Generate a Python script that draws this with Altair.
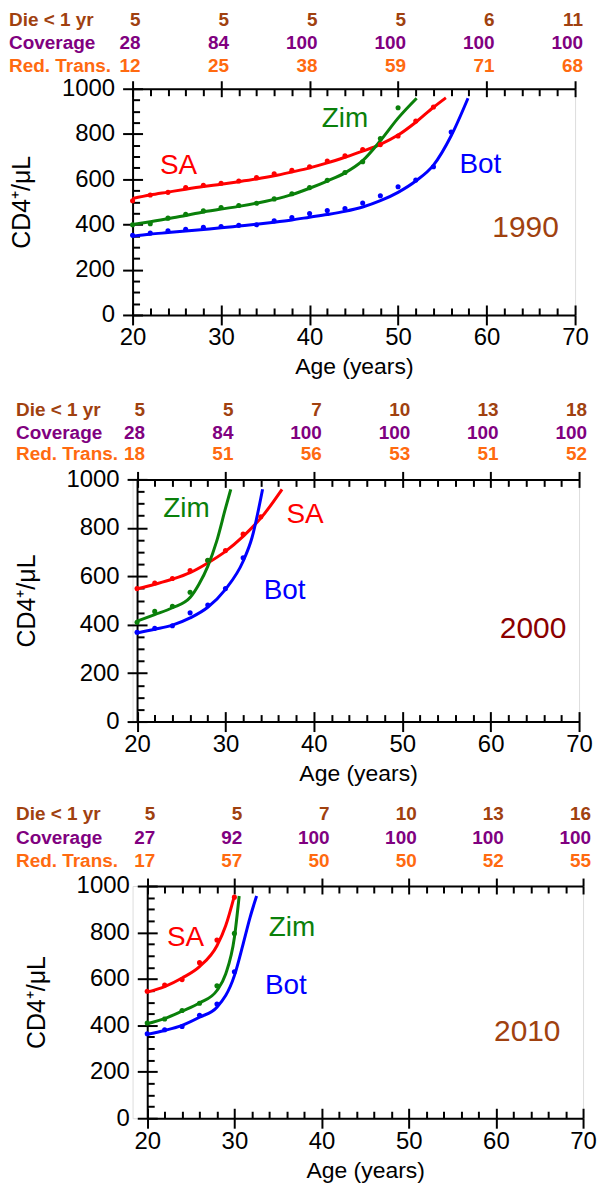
import altair as alt
import pandas as pd

FONT = "Liberation Sans"
RED, GREEN, BLUE = "#ff0000", "#0a800a", "#0000ff"
C_DIE, C_COV, C_RT = "#a0410f", "#800080", "#ff6a10"

SERIES = ["SA", "Zim", "Bot"]
ROW_LABELS = ["Die < 1 yr", "Coverage", "Red. Trans."]
HDR_AGE = [20, 30, 40, 50, 60, 70]

# ---------------- 1990 ----------------
DIE_1990 = [5, 5, 5, 5, 6, 11]
COV_1990 = [28, 84, 100, 100, 100, 100]
RT_1990 = [12, 25, 38, 59, 71, 68]

SA_1990_PT_AGE = [20, 22, 24, 26, 28, 30, 32, 34, 36, 38, 40, 42, 44, 46, 48, 50, 52, 54]
SA_1990_PT = [505, 530, 542, 563, 573, 582, 592, 607, 624, 640, 655, 680, 703, 731, 753, 791, 857, 919]
SA_1990_LN_AGE = [20, 22, 24, 26, 28, 30, 32, 34, 36, 38, 40, 42, 44, 46, 48, 50, 52, 54, 55.4]
SA_1990_LN = [515, 530, 543, 556, 568, 578, 589, 601, 615, 632, 650, 672, 697, 724, 754, 795, 852, 918, 960]

ZIM_1990_PT_AGE = [20, 22, 24, 26, 28, 30, 32, 34, 36, 38, 40, 42, 44, 46, 48, 50]
ZIM_1990_PT = [399, 403, 428, 445, 460, 475, 484, 494, 513, 536, 563, 595, 630, 677, 780, 916]
ZIM_1990_LN_AGE = [20, 22, 24, 26, 28, 30, 32, 34, 36, 38, 40, 42, 44, 46, 48, 50, 52.1]
ZIM_1990_LN = [400, 412, 425, 440, 455, 468, 480, 494, 511, 532, 560, 592, 628, 682, 770, 870, 958]

BOT_1990_PT_AGE = [20, 22, 24, 26, 28, 30, 32, 34, 36, 38, 40, 42, 44, 46, 48, 50, 52, 54, 56]
BOT_1990_PT = [352, 362, 372, 379, 387, 391, 396, 399, 416, 431, 448, 462, 470, 495, 527, 567, 596, 655, 809]
BOT_1990_LN_AGE = [20, 22, 24, 26, 28, 30, 32, 34, 36, 38, 40, 42, 44, 46, 48, 50, 52, 54, 56, 57.9]
BOT_1990_LN = [348, 357, 364, 371, 378, 385, 393, 401, 410, 420, 432, 444, 458, 477, 505, 542, 592, 662, 792, 958]

# ---------------- 2000 ----------------
DIE_2000 = [5, 5, 7, 10, 13, 18]
COV_2000 = [28, 84, 100, 100, 100, 100]
RT_2000 = [18, 51, 56, 53, 51, 52]

SA_2000_PT_AGE = [20, 22, 24, 26, 28, 30, 32, 34]
SA_2000_PT = [549, 572, 591, 624, 665, 706, 774, 846]
SA_2000_LN_AGE = [20, 22, 24, 26, 28, 30, 32, 34, 36.4]
SA_2000_LN = [548, 567, 588, 615, 655, 703, 765, 840, 959]

ZIM_2000_PT_AGE = [20, 22, 24, 26, 28]
ZIM_2000_PT = [410, 455, 476, 534, 666]
ZIM_2000_LN_AGE = [20, 22, 24, 26, 27, 28, 29, 30, 30.6]
ZIM_2000_LN = [415, 442, 470, 512, 567, 641, 744, 880, 959]

BOT_2000_PT_AGE = [20, 22, 24, 26, 28, 30, 32]
BOT_2000_PT = [369, 385, 396, 449, 481, 549, 676]
BOT_2000_LN_AGE = [20, 22, 24, 26, 28, 30, 32, 33, 34.2]
BOT_2000_LN = [366, 381, 398, 428, 472, 546, 662, 759, 959]

# ---------------- 2010 ----------------
DIE_2010 = [5, 5, 7, 10, 13, 16]
COV_2010 = [27, 92, 100, 100, 100, 100]
RT_2010 = [17, 57, 50, 50, 52, 55]

SA_2010_PT_AGE = [20, 22, 24, 26, 28, 30]
SA_2010_PT = [547, 574, 597, 670, 767, 952]
SA_2010_LN_AGE = [20, 22, 24, 26, 28, 29, 30]
SA_2010_LN = [543, 567, 604, 653, 743, 829, 958]

ZIM_2010_PT_AGE = [20, 22, 24, 26, 28, 30]
ZIM_2010_PT = [410, 427, 464, 495, 570, 796]
ZIM_2010_LN_AGE = [20, 22, 24, 26, 28, 29, 30, 30.55]
ZIM_2010_LN = [407, 429, 461, 496, 550, 621, 778, 957]

BOT_2010_PT_AGE = [20, 22, 24, 26, 28, 30]
BOT_2010_PT = [364, 381, 395, 443, 492, 631]
BOT_2010_LN_AGE = [20, 22, 24, 26, 28, 30, 31, 31.8, 32.55]
BOT_2010_LN = [361, 378, 400, 435, 478, 614, 750, 865, 957]


def frame(ages_list, vals_list):
    rows = []
    for name, ages, vals in zip(SERIES, ages_list, vals_list):
        for a, v in zip(ages, vals):
            rows.append({"series": name, "age": a, "val": v})
    return pd.DataFrame(rows)


COLOR = alt.Color("series:N", scale=alt.Scale(domain=SERIES, range=[RED, GREEN, BLUE]), legend=None)
MAJOR_X = [20, 30, 40, 50, 60, 70]
MINOR_X = list(range(20, 71, 2))
MAJOR_Y = list(range(0, 1001, 200))
MINOR_Y = list(range(0, 1001, 50))
COMMON = dict(tickColor="black", tickWidth=2, domainColor="black", domainWidth=2, grid=False)


def panel(W, H, r0, lines_df, pts_df, lab_pos, year_text, year_pos, year_color, hdr, lx, row_y):
    xs = alt.Scale(domain=[20, 70], range=[r0, W], nice=False, zero=False)
    ys = alt.Scale(domain=[0, 1000], nice=False)

    x_main = alt.Axis(orient="bottom", values=MAJOR_X, tickSize=10, labelFontSize=24, labelFont=FONT,
                      labelColor="black", labelPadding=1, labelFlush=False, title="Age (years)",
                      titleFontSize=23, titleFont=FONT, titleFontWeight="normal", titleColor="black",
                      titlePadding=6, **COMMON)
    y_main = alt.Axis(orient="left", values=MAJOR_Y, format="d", tickSize=10, offset=-r0, labelFontSize=24,
                      labelFont=FONT, labelColor="black", labelPadding=8, labelFlush=False,
                      title="CD4⁺/μL", titleFontSize=25, titleFont=FONT, titleFontWeight="normal",
                      titleColor="black", titlePadding=27, **COMMON)
    x_bot_in = alt.Axis(orient="top", offset=-H, values=MINOR_X,
                        tickSize={"condition": {"test": "datum.value % 10 === 0", "value": 10}, "value": 7},
                        labels=False, domain=False, title=None, tickColor="black", tickWidth=2, grid=False)
    y_left_in = alt.Axis(orient="right", offset=-(W - r0), values=MINOR_Y,
                         tickSize={"condition": {"test": "datum.value % 200 === 0", "value": 10}, "value": 7},
                         labels=False, domain=False, title=None, tickColor="black", tickWidth=2, grid=False)
    x_top_out = alt.Axis(orient="top", values=MAJOR_X, tickSize=8, labels=False, title=None, **COMMON)
    x_top_in = alt.Axis(orient="bottom", offset=-H, values=MINOR_X,
                        tickSize={"condition": {"test": "datum.value % 10 === 0", "value": 8}, "value": 7},
                        labels=False, domain=False, title=None, tickColor="black", tickWidth=2, grid=False)

    lines = alt.Chart(lines_df).mark_line(strokeWidth=3, interpolate="monotone").encode(
        x=alt.X("age:Q", scale=xs, axis=x_main),
        y=alt.Y("val:Q", scale=ys, axis=y_main),
        color=COLOR,
    )
    pts = alt.Chart(pts_df).mark_circle(size=26, opacity=1).encode(
        x=alt.X("age:Q", scale=xs, axis=x_bot_in),
        y=alt.Y("val:Q", scale=ys, axis=y_left_in),
        color=COLOR,
    )
    lab_df = pd.DataFrame({"series": SERIES, "age": [p[0] for p in lab_pos], "val": [p[1] for p in lab_pos]})
    labs = alt.Chart(lab_df).mark_text(fontSize=28, font=FONT, baseline="middle").encode(
        x=alt.X("age:Q", scale=xs, axis=x_top_out),
        y=alt.Y("val:Q", scale=ys, axis=None),
        text="series:N",
        color=COLOR,
    )
    yr_df = pd.DataFrame({"t": [year_text], "age": [year_pos[0]], "val": [year_pos[1]]})
    yr = alt.Chart(yr_df).mark_text(fontSize=30, font=FONT, baseline="middle", color=year_color).encode(
        x=alt.X("age:Q", scale=xs, axis=x_top_in),
        y=alt.Y("val:Q", scale=ys, axis=None),
        text="t:N",
    )
    layers = [lines, pts, labs, yr]
    for label, vals, col, ry in zip(ROW_LABELS, hdr, [C_DIE, C_COV, C_RT], row_y):
        hdf = pd.DataFrame({"age": HDR_AGE, "v": [str(v) for v in vals]})
        layers.append(
            alt.Chart(hdf).mark_text(align="right", baseline="middle", dx=8, fontSize=19,
                                     fontWeight="bold", font=FONT, color=col).encode(
                x=alt.X("age:Q", scale=xs, axis=None), y=alt.value(ry), text="v:N")
        )
        layers.append(
            alt.Chart(pd.DataFrame({"t": [label]})).mark_text(
                align="left", baseline="middle", fontSize=19, fontWeight="bold", font=FONT, color=col
            ).encode(x=alt.value(lx), y=alt.value(ry), text="t:N")
        )
    return alt.layer(*layers).resolve_axis(x="independent", y="independent").properties(width=W, height=H)


p1 = panel(444, 227, 0,
           frame([SA_1990_LN_AGE, ZIM_1990_LN_AGE, BOT_1990_LN_AGE], [SA_1990_LN, ZIM_1990_LN, BOT_1990_LN]),
           frame([SA_1990_PT_AGE, ZIM_1990_PT_AGE, BOT_1990_PT_AGE], [SA_1990_PT, ZIM_1990_PT, BOT_1990_PT]),
           [(25.2, 660), (44.0, 864), (59.3, 662)], "1990", (64.4, 385), "#a0410f",
           [DIE_1990, COV_1990, RT_1990], -124, [-69, -46, -23])

p2 = panel(448, 243, 4.5,
           frame([SA_2000_LN_AGE, ZIM_2000_LN_AGE, BOT_2000_LN_AGE], [SA_2000_LN, ZIM_2000_LN, BOT_2000_LN]),
           frame([SA_2000_PT_AGE, ZIM_2000_PT_AGE, BOT_2000_PT_AGE], [SA_2000_PT, ZIM_2000_PT, BOT_2000_PT]),
           [(39.0, 851), (25.6, 876), (36.7, 539)], "2000", (64.8, 382), "#8b0000",
           [DIE_2000, COV_2000, RT_2000], -117, [-70, -47, -25])

p3 = panel(452, 233, 14.7,
           frame([SA_2010_LN_AGE, ZIM_2010_LN_AGE, BOT_2010_LN_AGE], [SA_2010_LN, ZIM_2010_LN, BOT_2010_LN]),
           frame([SA_2010_PT_AGE, ZIM_2010_PT_AGE, BOT_2010_PT_AGE], [SA_2010_PT, ZIM_2010_PT, BOT_2010_PT]),
           [(24.4, 775), (36.6, 821), (35.9, 571)], "2010", (63.6, 370), "#a0410f",
           [DIE_2010, COV_2010, RT_2010], -117, [-72, -48, -25])

chart = alt.vconcat(p1, p2, p3, spacing=165, bounds="flush").properties(
    padding=0
).configure_view(stroke=None).configure(font=FONT)

chart.save("out.html", embed_options={"renderer": "svg", "actions": False})
